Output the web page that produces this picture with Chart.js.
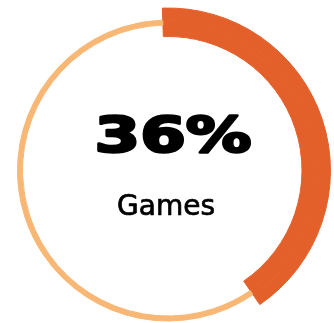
<!DOCTYPE html>
<html>
<head>
<meta charset="utf-8">
<script src="https://cdn.jsdelivr.net/npm/chart.js@4/dist/chart.umd.min.js"></script>
<style>
  html, body { margin: 0; padding: 0; background: #fff; overflow: hidden; }
  #wrap { position: relative; width: 334px; height: 341px; }
</style>
</head>
<body>
<div id="wrap"><canvas id="gamesChart"></canvas></div>
<script>
// values (arc share as drawn, label as printed)
var segmentLabels = ['Games', 'Other'];
var segmentValues = [41, 59];
var centerValue = '36%';
var centerLabel = 'Games';

var darkOrange = '#E4602A';
var lightOrange = '#F8B775';

// three stacked rings: the dark arc runs through all, the thin light track only in the middle one
function ring(weight, restColor) {
    return {
        data: segmentValues,
        backgroundColor: [darkOrange, restColor],
        borderColor: [darkOrange, restColor],
        borderWidth: 1,
        weight: weight
    };
}

// center text, stroked a little to get the heavier weight of the original
var centerText = {
    id: 'centerText',
    afterDraw: function (chart) {
        var ctx = chart.ctx;
        ctx.save();
        ctx.fillStyle = '#000';
        ctx.strokeStyle = '#000';
        ctx.lineJoin = 'round';
        ctx.textBaseline = 'alphabetic';
        ctx.textAlign = 'left';

        ctx.font = 'bold 50px "DejaVu Sans"';
        var w = ctx.measureText(centerValue).width;
        var sx = 157 / w;
        ctx.save();
        ctx.translate(94.5, 152);
        ctx.scale(sx, 1);
        ctx.lineWidth = 2.6;
        ctx.fillText(centerValue, 0, 0);
        ctx.strokeText(centerValue, 0, 0);
        ctx.restore();

        ctx.font = '28px "DejaVu Sans"';
        ctx.textAlign = 'center';
        ctx.lineWidth = 0.7;
        ctx.fillText(centerLabel, 166, 215);
        ctx.strokeText(centerLabel, 166, 215);
        ctx.restore();
    }
};

var ctxGames = document.getElementById('gamesChart').getContext('2d');
var gamesChart = new Chart(ctxGames, {
    type: 'doughnut',
    data: {
        labels: segmentLabels,
        datasets: [
            ring(12, 'rgba(0,0,0,0)'),
            ring(5, lightOrange),
            ring(11.5, 'rgba(0,0,0,0)')
        ]
    },
    options: {
        responsive: true,
        maintainAspectRatio: false,
        animation: false,
        rotation: -2,
        cutout: 134,
        layout: {
            padding: { left: 5, right: 3, top: 7.5, bottom: 7.5 }
        },
        plugins: {
            legend: { display: false },
            tooltip: { enabled: false }
        }
    },
    plugins: [centerText]
});
</script>
</body>
</html>
